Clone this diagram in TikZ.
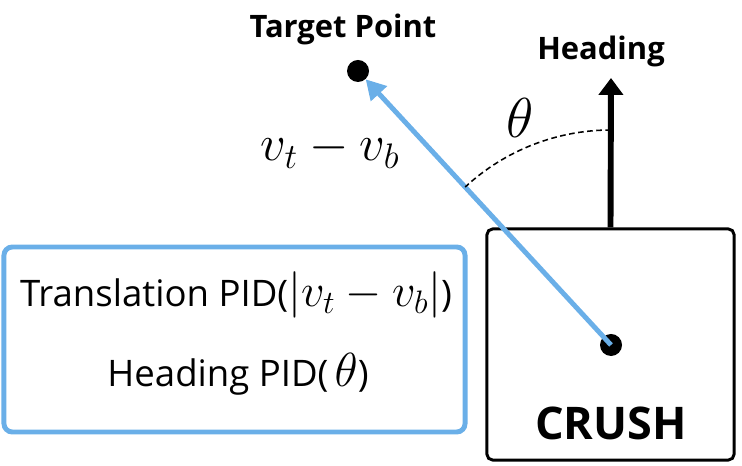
\RequirePackage{fix-cm}
\documentclass[tikz,border=0pt]{standalone}
\usepackage{fontspec}
\setmainfont{Open Sans}
\usetikzlibrary{arrows.meta}
\definecolor{pidblue}{HTML}{6AAFE8}

\tikzset{
  pidtext/.style={font=\fontsize{26}{30}\selectfont, inner sep=0pt},
  boldlabel/.style={font=\bfseries\fontsize{22}{26}\selectfont, inner sep=0pt},
  dotmark/.style={circle, fill=black, inner sep=0pt, minimum size=0.55cm},
}

\begin{document}
\begin{tikzpicture}[x=0.025cm, y=0.025cm]
\useasboundingbox (0,0) rectangle (742,466);

% controller box
\node[draw=pidblue, line width=3.5pt, rounded corners=6pt,
      minimum width=11.525cm, minimum height=4.625cm] (pidbox) at (234.5,126.5) {};
\node[pidtext, anchor=base] (transpid) at (236,159)
  {Translation PID({\fontsize{33}{36}\selectfont$\bigl|v_t - v_b\bigr|$})};
\node[pidtext, anchor=base] (headpid) at (238,79)
  {Heading PID(\,{\fontsize{34}{36}\selectfont$\theta$})};

% robot
\node[draw, line width=2.1pt, rounded corners=4pt,
      minimum width=6.175cm, minimum height=5.775cm] (crush) at (610.5,121.5) {};
\node[font=\bfseries\fontsize{32}{36}\selectfont, anchor=base, inner sep=0pt] (crushlbl) at (611,26) {CRUSH};
\node[dotmark] (robot) at (611,121) {};

% heading
\coordinate (headtip) at (611,388);
\draw[line width=4.2pt, -{Triangle[length=12pt, width=17pt]}] (crush.north) -- (headtip);
\node[boldlabel, anchor=base] (headlbl) at (601,406) {Heading};

% target
\node[dotmark] (target) at (358,395) {};
\node[boldlabel, anchor=base] (targetlbl) at (343,428) {Target Point};
\draw[pidblue, line width=3.5pt, -{Triangle[length=14pt, width=15pt]}] (robot.center) -- (target);

% angle
\draw[line width=1.1pt, dash pattern=on 4pt off 2.5pt] (robot.center) ++(90:215) arc[start angle=90, end angle=132.7, radius=215];
\node[font=\fontsize{40}{44}\selectfont] (thetalbl) at (520,348) {$\theta$};
\node[font=\fontsize{36}{40}\selectfont] (errlbl) at (330,316) {$v_t - v_b$};

\end{tikzpicture}
\end{document}
